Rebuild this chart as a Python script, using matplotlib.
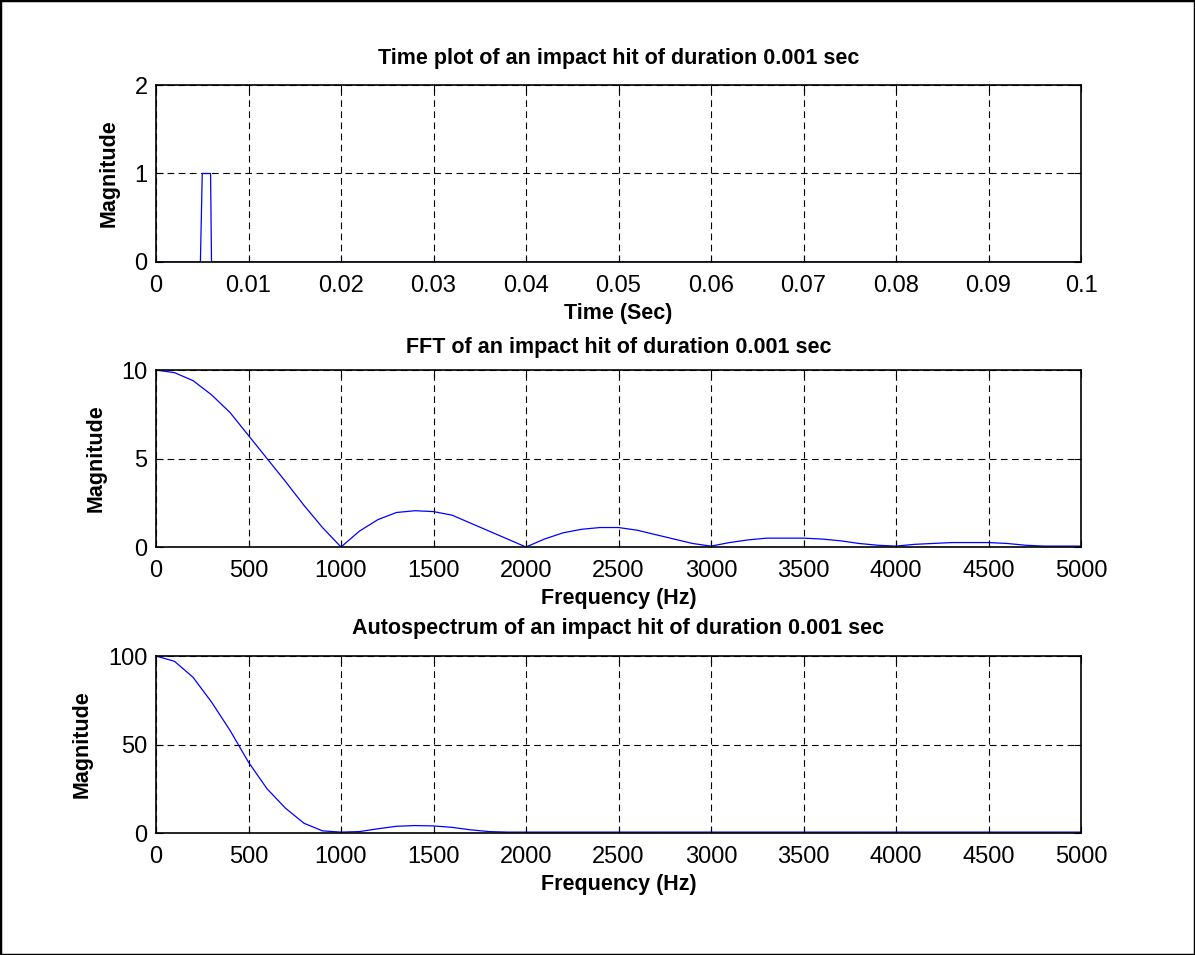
import matplotlib
matplotlib.use("Agg")
import matplotlib.pyplot as plt
from matplotlib.patches import Rectangle

plt.rcParams['font.family'] = ['Liberation Sans', 'DejaVu Sans']

# time plot of the pulse
t = [0.0, 0.0048, 0.0050, 0.0059, 0.0060, 0.1]
x = [0, 0, 1, 1, 0, 0]

# FFT magnitude, read every 100 Hz
freq = list(range(0, 5001, 100))
fft_mag = [10.0, 9.85, 9.4, 8.6, 7.6, 6.3, 5.0, 3.7, 2.35, 1.1,
           0.0, 0.9, 1.55, 1.95, 2.05, 2.0, 1.8, 1.35, 0.9, 0.45,
           0.0, 0.45, 0.8, 1.0, 1.1, 1.1, 0.95, 0.7, 0.45, 0.2,
           0.05, 0.25, 0.4, 0.5, 0.5, 0.5, 0.45, 0.35, 0.2, 0.1,
           0.05, 0.15, 0.2, 0.25, 0.25, 0.25, 0.2, 0.1, 0.05, 0.05,
           0.05]

# autospectrum, read every 100 Hz
auto = [100, 97, 88, 74, 58, 40, 25, 14, 5.5, 1.2,
        0.5, 0.8, 2.4, 3.8, 4.2, 4.0, 3.2, 1.8, 0.8, 0.5,
        0.5, 0.5, 0.5, 0.5, 0.5, 0.5, 0.5, 0.5, 0.5, 0.5,
        0.5, 0.5, 0.5, 0.5, 0.5, 0.5, 0.5, 0.5, 0.5, 0.5,
        0.5, 0.5, 0.5, 0.5, 0.5, 0.5, 0.5, 0.5, 0.5, 0.5,
        0.5]

fig = plt.figure(figsize=(11.95, 9.55), dpi=100)
fig.patches.append(Rectangle((0, 0), 1, 1, transform=fig.transFigure,
                             fill=False, edgecolor='black', linewidth=2.5))

L, W, H = 156/1195, 925/1195, 177/955
tops = [85, 370, 656]
title_pads = [15, 12, 16]

panels = [
    (t, x, [0, 0.1], [0, 2], [0, 0.01, 0.02, 0.03, 0.04, 0.05, 0.06, 0.07, 0.08, 0.09, 0.1],
     ['0', '0.01', '0.02', '0.03', '0.04', '0.05', '0.06', '0.07', '0.08', '0.09', '0.1'],
     [0, 1, 2], 'Time plot of an impact hit of duration 0.001 sec', 'Time (Sec)'),
    (freq, fft_mag, [0, 5000], [0, 10], list(range(0, 5001, 500)), None,
     [0, 5, 10], 'FFT of an impact hit of duration 0.001 sec', 'Frequency (Hz)'),
    (freq, auto, [0, 5000], [0, 100], list(range(0, 5001, 500)), None,
     [0, 50, 100], 'Autospectrum of an impact hit of duration 0.001 sec', 'Frequency (Hz)'),
]

for top, tp, (xs, ys, xl, yl, xt, xtl, yt, title, xlab) in zip(tops, title_pads, panels):
    ax = fig.add_axes([L, 1 - (top + 177) / 955, W, H])
    ax.plot(xs, ys, color='blue', linewidth=0.9)
    ax.set_xlim(xl)
    ax.set_ylim(yl)
    ax.set_xticks(xt)
    if xtl:
        ax.set_xticklabels(xtl)
    ax.set_yticks(yt)
    ax.grid(True, color='black', linestyle=(0, (6, 4)), linewidth=0.8)
    ax.tick_params(direction='in', length=5, width=0.8, top=True, right=True,
                   labelsize=17)
    ax.tick_params(axis='x', pad=9)
    ax.tick_params(axis='y', pad=6)
    for s in ax.spines.values():
        s.set_linewidth(1.2)
    ax.set_title(title, fontsize=15.5, fontweight='bold', pad=tp)
    ax.set_xlabel(xlab, fontsize=15.5, fontweight='bold', labelpad=5)
    ax.set_ylabel('Magnitude', fontsize=15.5, fontweight='bold', labelpad=11)

fig.savefig('out.png', dpi=100)
